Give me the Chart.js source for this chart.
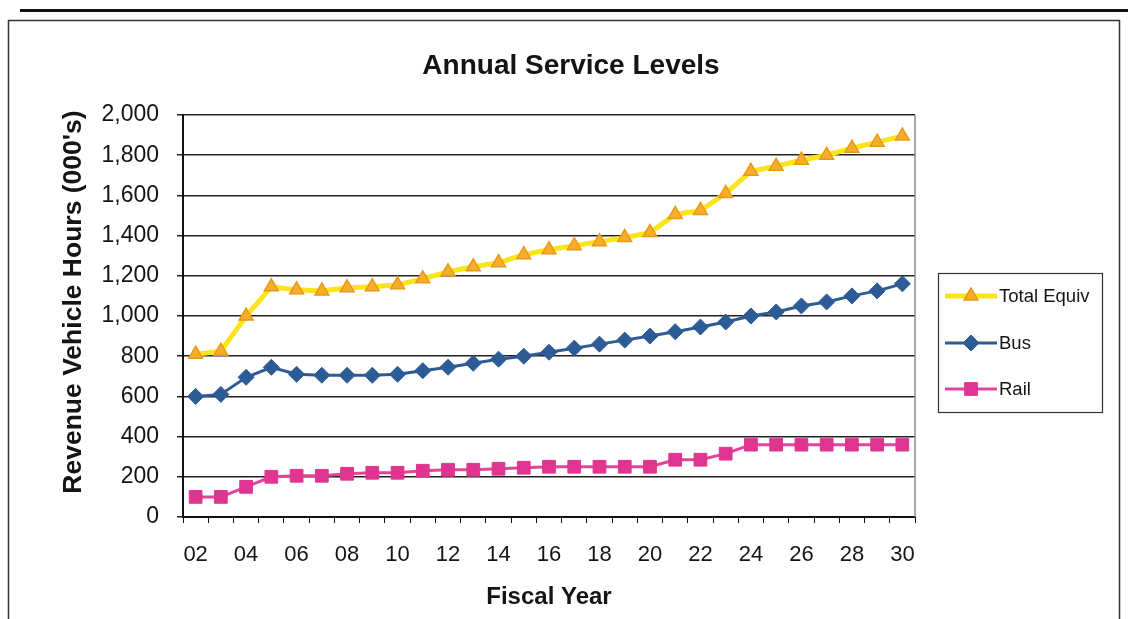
<!DOCTYPE html>
<html>
<head>
<meta charset="utf-8">
<title>Annual Service Levels</title>
<script src="https://cdn.jsdelivr.net/npm/chart.js@4/dist/chart.umd.min.js"></script>
<style>
  html, body { margin: 0; padding: 0; background: #fff; }
  #wrap { position: relative; width: 1128px; height: 619px; }
</style>
</head>
<body>
<div id="wrap"><canvas id="c" width="1128" height="619"></canvas></div>
<script>
// Fiscal years (two-digit) on the x axis
const fiscalYears = ['02','03','04','05','06','07','08','09','10','11','12','13','14','15','16',
                     '17','18','19','20','21','22','23','24','25','26','27','28','29','30'];

// Revenue vehicle hours, thousands
const totalEquiv = [810, 825, 1000, 1145, 1130, 1125, 1140, 1145, 1155, 1185, 1220, 1245, 1265, 1305, 1330,
                    1350, 1370, 1390, 1415, 1505, 1525, 1610, 1720, 1745, 1775, 1800, 1835, 1865, 1895];
const bus        = [600, 610, 695, 745, 710, 705, 705, 705, 710, 728, 745, 765, 785, 800, 820,
                    840, 860, 880, 900, 922, 945, 970, 1000, 1020, 1050, 1070, 1100, 1125, 1160];
const rail       = [100, 100, 150, 200, 205, 205, 215, 220, 220, 230, 235, 235, 240, 245, 250,
                    250, 250, 250, 250, 285, 285, 315, 360, 360, 360, 360, 360, 360, 360];

const seriesNames = ['Total Equiv', 'Bus', 'Rail'];

// Y axis range
const yMin = 0, yMax = 2000, yStep = 200;

const FONT = "'Liberation Sans', Arial, Helvetica, sans-serif";
const TEXT = '#141414';
const Y_TITLE = "Revenue Vehicle Hours (000's)";

// Page frame lines around the chart
const framePlugin = {
  id: 'frame',
  beforeDraw(chart) {
    const ctx = chart.ctx;
    ctx.save();
    ctx.fillStyle = '#fff';
    ctx.fillRect(0, 0, chart.width, chart.height);
    ctx.strokeStyle = '#111';
    ctx.lineWidth = 3;
    ctx.beginPath();
    ctx.moveTo(20, 10.5);
    ctx.lineTo(chart.width, 10.5);
    ctx.stroke();
    ctx.strokeStyle = '#333';
    ctx.lineWidth = 1.5;
    ctx.beginPath();
    ctx.moveTo(8.5, chart.height + 2);
    ctx.lineTo(8.5, 20.5);
    ctx.lineTo(1119.5, 20.5);
    ctx.lineTo(1119.5, chart.height + 2);
    ctx.stroke();
    ctx.restore();
  },
  beforeDatasetsDraw(chart) {
    // right edge of the plot area
    const { ctx, chartArea: a } = chart;
    ctx.save();
    ctx.strokeStyle = '#8a8a8a';
    ctx.lineWidth = 1.5;
    ctx.beginPath();
    ctx.moveTo(a.right, a.top);
    ctx.lineTo(a.right, a.bottom);
    ctx.stroke();
    ctx.restore();
  },
  afterDraw(chart) {
    // rotated value-axis title, centred a little above the plot middle
    const ctx = chart.ctx;
    ctx.save();
    ctx.translate(74, 302);
    ctx.rotate(-Math.PI / 2);
    ctx.fillStyle = TEXT;
    ctx.font = 'bold 26.5px ' + FONT;
    ctx.textAlign = 'center';
    ctx.textBaseline = 'middle';
    ctx.fillText(Y_TITLE, 0, 0);
    ctx.restore();
  }
};

// Boxed legend to the right of the plot, each entry a line with its marker
const boxLegendPlugin = {
  id: 'boxLegend',
  afterDraw(chart) {
    const { ctx, chartArea: a } = chart;
    const left = a.right + 23, top = 273, w = 164, h = 139;
    ctx.save();
    ctx.strokeStyle = '#333';
    ctx.lineWidth = 1.2;
    ctx.strokeRect(left + 0.5, top + 0.5, w, h);
    const rowsY = [296, 343, 389];
    chart.data.datasets.forEach((ds, i) => {
      const y = rowsY[i];
      const x0 = left + 7, x1 = left + 59, xm = (x0 + x1) / 2;
      ctx.strokeStyle = ds.borderColor;
      ctx.lineWidth = ds.borderWidth;
      ctx.beginPath();
      ctx.moveTo(x0, y);
      ctx.lineTo(x1, y);
      ctx.stroke();
      ctx.fillStyle = ds.pointBackgroundColor;
      ctx.strokeStyle = ds.pointBorderColor;
      ctx.lineWidth = ds.pointBorderWidth;
      Chart.helpers.drawPoint(ctx, {
        pointStyle: ds.pointStyle,
        radius: ds.pointRadius,
        rotation: 0,
        borderWidth: ds.pointBorderWidth
      }, xm, y);
      ctx.fillStyle = TEXT;
      ctx.font = '18.5px ' + FONT;
      ctx.textAlign = 'left';
      ctx.textBaseline = 'middle';
      ctx.fillText(ds.label, x1 + 2, y + 1);
    });
    ctx.restore();
  }
};

const ctx = document.getElementById('c').getContext('2d');
new Chart(ctx, {
  type: 'line',
  data: {
    labels: fiscalYears,
    datasets: [
      {
        label: seriesNames[0],
        data: totalEquiv,
        borderColor: '#fbe41a',
        borderWidth: 5,
        pointStyle: 'triangle',
        pointRadius: 8,
        pointBackgroundColor: '#f5ae2a',
        pointBorderColor: '#ea981a',
        pointBorderWidth: 1.5,
        tension: 0
      },
      {
        label: seriesNames[1],
        data: bus,
        borderColor: '#2d5b96',
        borderWidth: 3,
        pointStyle: 'rectRot',
        pointRadius: 8,
        pointBackgroundColor: '#2d5b96',
        pointBorderColor: '#2d5b96',
        pointBorderWidth: 1,
        tension: 0
      },
      {
        label: seriesNames[2],
        data: rail,
        borderColor: '#e0449b',
        borderWidth: 3,
        pointStyle: 'rect',
        pointRadius: 9,
        pointBackgroundColor: '#df3590',
        pointBorderColor: '#df3590',
        pointBorderWidth: 1,
        tension: 0
      }
    ]
  },
  options: {
    responsive: false,
    animation: false,
    events: [],
    layout: { padding: { left: 14, right: 0, top: 0, bottom: 6 } },
    plugins: {
      legend: { display: false },
      tooltip: { enabled: false },
      title: {
        display: true,
        text: 'Annual Service Levels',
        color: TEXT,
        font: { family: FONT, size: 28, weight: 'bold', lineHeight: 1.2 },
        padding: { top: 49, bottom: 32.4 }
      }
    },
    scales: {
      x: {
        type: 'category',
        offset: true,
        afterFit(scale) { scale.height = 96; },
        grid: {
          offset: true,
          drawOnChartArea: false,
          drawTicks: true,
          tickLength: 6,
          color: '#111',
          lineWidth: 1
        },
        border: { display: true, color: '#111', width: 2 },
        ticks: {
          autoSkip: false,
          maxRotation: 0,
          color: TEXT,
          font: { family: FONT, size: 22 },
          padding: 19,
          callback(value, index) { return index % 2 === 0 ? fiscalYears[index] : ''; }
        },
        title: {
          display: true,
          text: 'Fiscal Year',
          color: TEXT,
          font: { family: FONT, size: 24, weight: 'bold', lineHeight: 1.2 },
          padding: { top: 0, bottom: 1 }
        }
      },
      y: {
        min: yMin,
        max: yMax,
        afterFit(scale) { scale.width = 169; },
        grid: {
          color: '#222',
          lineWidth: 1.5,
          drawTicks: true,
          tickLength: 6
        },
        border: { display: true, color: '#111', width: 2 },
        ticks: {
          stepSize: yStep,
          color: TEXT,
          font: { family: FONT, size: 23 },
          padding: 18,
          callback(v) { return Number(v).toLocaleString('en-US'); }
        }
      },
      // empty right-hand axis that keeps room for the legend box
      legendSpace: {
        position: 'right',
        display: true,
        afterFit(scale) { scale.width = 213; },
        grid: { display: false, drawOnChartArea: false },
        border: { display: false },
        ticks: { display: false }
      }
    }
  },
  plugins: [framePlugin, boxLegendPlugin]
});
</script>
</body>
</html>
